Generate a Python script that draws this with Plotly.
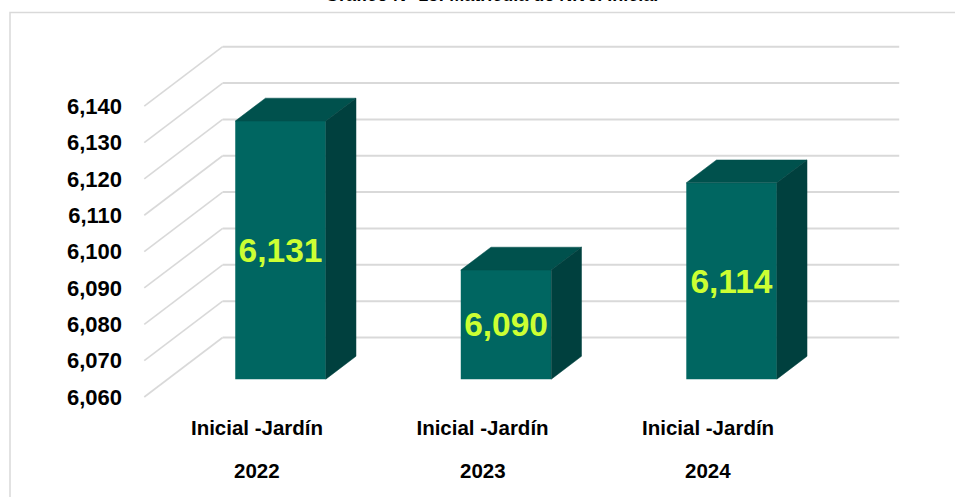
import plotly.graph_objects as go

# ---- data ----
categories = ["Inicial -Jardín", "Inicial -Jardín", "Inicial -Jardín"]
years = ["2022", "2023", "2024"]
values = [6131, 6090, 6114]
y_ticks = [6060, 6070, 6080, 6090, 6100, 6110, 6120, 6130, 6140]
title_text = "Gráfico N° 13: Matrícula de Nivel Inicial"

# ---- styling / geometry ----
W_FIG, H_FIG = 955, 497
ML, MR, MT, MB = 142, 53, 40, 97
PW = W_FIG - ML - MR
PH = H_FIG - MT - MB
XA, XB = -0.51, 2.86
PX_X = PW / (XB - XA)
PX_Y = 3.635
Y_FLOOR = y_ticks[0]
YA = Y_FLOOR - 3 / PX_Y
YB = YA + PH / PX_Y

DXU = 78.4 / PX_X         # wall depth in x units
DYU = 59.5 / PX_Y         # wall depth in y units
F1, F2 = 0.30, 0.685      # bar front/back depth fractions
BAR_W = 0.4015
WALL_X0, WALL_X1 = -0.5, 2.5

FRONT = "#006661"
TOP = "#00514D"
SIDE = "#00403E"
GRID = "#d9d9d9"
LABEL = "#CCFF33"

xs = list(range(len(values)))
fig = go.Figure()

# bars (front faces) in the bar-front plane (x2/y2)
fig.add_trace(go.Bar(
    x=xs, y=[v - Y_FLOOR for v in values], base=[Y_FLOOR] * len(values),
    width=BAR_W, marker=dict(color=FRONT, line=dict(width=0)),
    text=[f"{v:,}" for v in values], textposition="inside",
    insidetextanchor="middle", textangle=0, constraintext="none",
    textfont=dict(family="Arial", size=33.5, color=LABEL, weight="bold"),
    xaxis="x2", yaxis="y2", hoverinfo="skip", showlegend=False,
))

ddx = (F2 - F1) * DXU
ddy = (F2 - F1) * DYU
for x, v in zip(xs, values):
    xl, xr = x - BAR_W / 2, x + BAR_W / 2
    # top face
    fig.add_trace(go.Scatter(
        x=[xl, xr, xr + ddx, xl + ddx, xl], y=[v, v, v + ddy, v + ddy, v],
        fill="toself", fillcolor=TOP, line=dict(width=0.5, color=TOP),
        mode="lines", xaxis="x2", yaxis="y2", hoverinfo="skip", showlegend=False))
    # side face
    fig.add_trace(go.Scatter(
        x=[xr, xr, xr + ddx, xr + ddx, xr],
        y=[Y_FLOOR, v, v + ddy, Y_FLOOR + ddy, Y_FLOOR],
        fill="toself", fillcolor=SIDE, line=dict(width=0.5, color=SIDE),
        mode="lines", xaxis="x2", yaxis="y2", hoverinfo="skip", showlegend=False))

# wall gridlines (back wall horizontals + side wall diagonals)
shapes = []
for t in y_ticks:
    shapes.append(dict(type="line", xref="x", yref="y", layer="below",
                       x0=WALL_X0 + DXU, x1=WALL_X1 + DXU, y0=t + DYU, y1=t + DYU,
                       line=dict(color=GRID, width=2)))
    shapes.append(dict(type="line", xref="x", yref="y", layer="below",
                       x0=WALL_X0, x1=WALL_X0 + DXU, y0=t, y1=t + DYU,
                       line=dict(color=GRID, width=1.6)))

# chart frame
def px2paper_x(px):
    return (px - ML) / PW

def px2paper_y(py):
    return 1 - (py - MT) / PH

shapes.append(dict(type="rect", xref="paper", yref="paper",
                   x0=px2paper_x(10), x1=px2paper_x(970), y0=px2paper_y(12.5), y1=px2paper_y(510),
                   line=dict(color=GRID, width=1.5), fillcolor="rgba(0,0,0,0)", layer="below"))

annotations = []
for x, yr in zip(xs, years):
    annotations.append(dict(x=x, y=px2paper_y(470), xref="x", yref="paper", text=yr,
                            showarrow=False, yanchor="middle",
                            font=dict(family="Arial", size=20.5, color="#000000", weight="bold")))
annotations.append(dict(x=px2paper_x(491), y=px2paper_y(6.5), xref="paper", yref="paper",
                        text=title_text, showarrow=False, yanchor="bottom",
                        font=dict(family="Arial", size=18, color="#000000", weight="bold")))

fig.update_layout(
    width=W_FIG, height=H_FIG,
    margin=dict(l=ML, r=MR, t=MT, b=MB, pad=0),
    paper_bgcolor="white", plot_bgcolor="white",
    showlegend=False,
    xaxis=dict(range=[XA, XB], tickvals=xs, ticktext=categories, showgrid=False,
               zeroline=False, showline=False, ticks="", ticklabelstandoff=13,
               tickfont=dict(family="Arial", size=20.5, color="#000000", weight="bold")),
    yaxis=dict(range=[YA, YB], tickvals=y_ticks, ticktext=[f"{t:,}" for t in y_ticks],
               showgrid=False, zeroline=False, showline=False, ticks="",
               ticklabelstandoff=19,
               tickfont=dict(family="Arial", size=22, color="#000000", weight="bold")),
    xaxis2=dict(range=[XA - F1 * DXU, XB - F1 * DXU], overlaying="x", visible=False),
    yaxis2=dict(range=[YA - F1 * DYU, YB - F1 * DYU], overlaying="y", visible=False),
    shapes=shapes, annotations=annotations,
)

fig.write_html(
    "out.html",
    config={"displayModeBar": False, "staticPlot": True},
    post_script="document.body.style.margin='0';document.body.style.padding='0';"
                "document.documentElement.style.overflow='hidden';",
)
